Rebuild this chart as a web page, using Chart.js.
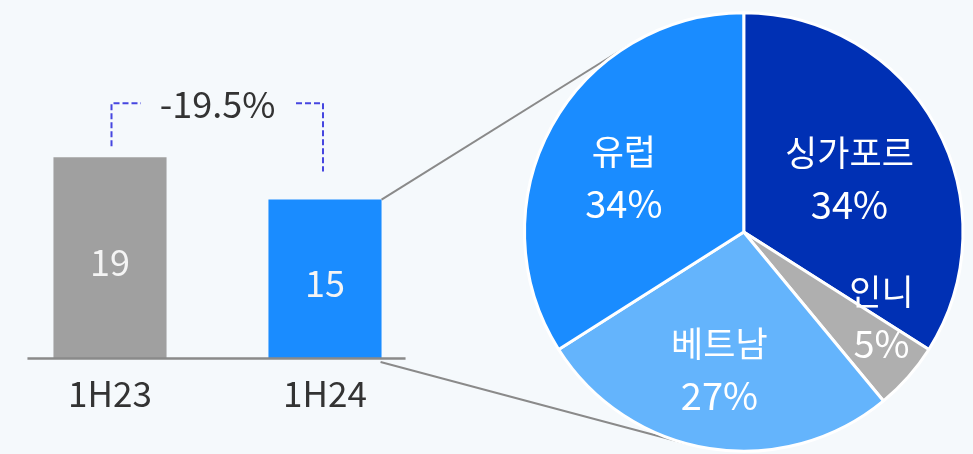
<!DOCTYPE html>
<html>
<head>
<meta charset="utf-8">
<script src="https://cdn.jsdelivr.net/npm/chart.js@4.4.1/dist/chart.umd.min.js"></script>
<style>
    html, body { margin: 0; padding: 0; background: #f5f9fc; }
    #wrap { position: relative; width: 973px; height: 454px; overflow: hidden; }
    #wrap canvas { position: absolute; top: 0; }
</style>
</head>
<body>
<div id="wrap">
    <canvas id="bar-chart" width="440" height="454" style="left: 0;"></canvas>
    <canvas id="overlay" width="973" height="454" style="left: 0;"></canvas>
    <canvas id="pie-chart" width="473" height="454" style="left: 500px;"></canvas>
</div>
<script>
// data
const periods = ['1H23', '1H24'];
const revenue = [19, 15];
const changeLabel = '-19.5%';
const regions = ['싱가포르', '인니', '베트남', '유럽'];
const regionShare = [34, 5, 27, 34];

// label placement inside the pie (fraction of radius, angle nudge in degrees)
const labelRadius = [0.54, 0.74, 0.64, 0.6];
const labelNudge = [2, -9.5, 1, -4.5];

const FONT = "'Noto Sans CJK KR', 'Noto Sans', sans-serif";
Chart.defaults.font.family = FONT;

const barColors = ['#a0a0a0', '#1a8cff'];
const pieColors = ['#0030b4', '#afafaf', '#64b4fc', '#1a8cff'];

const barLabels = {
    id: 'barLabels',
    afterDatasetsDraw(chart) {
        const ctx = chart.ctx;
        const bars = chart.getDatasetMeta(0).data;
        ctx.save();
        ctx.font = '36px ' + FONT;
        ctx.fillStyle = '#f4f4f4';
        ctx.textAlign = 'center';
        ctx.textBaseline = 'alphabetic';
        bars.forEach((b, i) => {
            ctx.fillText(String(revenue[i]), b.x, (b.y + b.base) / 2 + 18);
        });
        ctx.restore();
    }
};

const pieLabels = {
    id: 'pieLabels',
    afterDatasetsDraw(chart) {
        const ctx = chart.ctx;
        const arcs = chart.getDatasetMeta(0).data;
        ctx.save();
        ctx.fillStyle = '#ffffff';
        ctx.textAlign = 'center';
        ctx.textBaseline = 'alphabetic';
        arcs.forEach((a, i) => {
            const mid = (a.startAngle + a.endAngle) / 2 + labelNudge[i] * Math.PI / 180;
            const r = a.outerRadius * labelRadius[i];
            const x = a.x + Math.cos(mid) * r;
            const y = a.y + Math.sin(mid) * r;
            ctx.font = '35px ' + FONT;
            ctx.fillText(regions[i], x, y - 13);
            ctx.font = '38px ' + FONT;
            ctx.fillText(regionShare[i] + '%', x, y + 40);
        });
        ctx.restore();
    }
};

const barChart = new Chart(document.getElementById('bar-chart'), {
    type: 'bar',
    data: {
        labels: periods,
        datasets: [{
            data: revenue,
            backgroundColor: barColors,
            barPercentage: 0.526,
            categoryPercentage: 1
        }]
    },
    options: {
        responsive: false,
        animation: false,
        layout: { padding: { left: 2.5, right: 7.5, top: 57, bottom: 24 } },
        plugins: { legend: { display: false }, tooltip: { enabled: false } },
        scales: {
            y: { display: false, min: 0, max: 28.5 },
            x: {
                grid: { display: false, drawTicks: false },
                border: { display: false },
                ticks: { color: '#333', font: { size: 35 }, padding: 15, maxRotation: 0 }
            }
        }
    },
    plugins: [barLabels]
});

const pieChart = new Chart(document.getElementById('pie-chart'), {
    type: 'pie',
    data: {
        labels: regions,
        datasets: [{
            data: regionShare,
            backgroundColor: pieColors,
            borderColor: '#ffffff',
            borderWidth: 3
        }]
    },
    options: {
        responsive: false,
        animation: false,
        layout: { padding: { left: 23, right: 8.5, top: 10.5, bottom: 0.5 } },
        plugins: { legend: { display: false }, tooltip: { enabled: false } }
    },
    plugins: [pieLabels]
});

// baseline, change bracket and the connectors from the 1H24 bar to the pie
const drawOverlay = () => {
    const canvas = document.getElementById('overlay');
    const ctx = canvas.getContext('2d');
    const bars = barChart.getDatasetMeta(0).data;
    const arc = pieChart.getDatasetMeta(0).data[0];
    const cx = arc.x + document.getElementById('pie-chart').offsetLeft;
    const cy = arc.y;
    const r = arc.outerRadius;
    const b0 = bars[0], b1 = bars[1];
    const base = b0.base;

    const tangent = (px, py, upper) => {
        const d = Math.hypot(px - cx, py - cy);
        const phi = Math.atan2(py - cy, px - cx);
        const alpha = Math.acos(r / d);
        const t1 = [cx + r * Math.cos(phi + alpha), cy + r * Math.sin(phi + alpha)];
        const t2 = [cx + r * Math.cos(phi - alpha), cy + r * Math.sin(phi - alpha)];
        return (t1[1] < t2[1]) === upper ? t1 : t2;
    };

    ctx.strokeStyle = '#8a8a8a';
    ctx.lineWidth = 2;
    const right = b1.x + b1.width / 2;
    let t = tangent(right, b1.y, true);
    ctx.beginPath();
    ctx.moveTo(right, b1.y);
    ctx.lineTo(t[0], t[1]);
    ctx.stroke();
    t = tangent(right - 1, base + 4, false);
    ctx.beginPath();
    ctx.moveTo(right - 1, base + 4);
    ctx.lineTo(t[0], t[1]);
    ctx.stroke();

    ctx.lineWidth = 2.5;
    ctx.beginPath();
    ctx.moveTo(b0.x - b0.width / 2 - 26, base + 0.5);
    ctx.lineTo(b1.x + b1.width / 2 + 24, base + 0.5);
    ctx.stroke();

    const top = b0.y - 54;
    ctx.strokeStyle = '#4646e0';
    ctx.lineWidth = 2;
    ctx.setLineDash([6, 3]);
    ctx.beginPath();
    ctx.moveTo(b0.x + 1.5, b0.y - 11);
    ctx.lineTo(b0.x + 1.5, top);
    ctx.lineTo(b0.x + 31, top);
    ctx.moveTo(b1.x - 29, top);
    ctx.lineTo(b1.x - 2, top);
    ctx.lineTo(b1.x - 2, b1.y - 28);
    ctx.stroke();
    ctx.setLineDash([]);

    ctx.font = '36px ' + FONT;
    ctx.fillStyle = '#333';
    ctx.textAlign = 'center';
    ctx.fillText(changeLabel, (b0.x + b1.x) / 2, top + 15);
};
drawOverlay();
</script>
</body>
</html>
